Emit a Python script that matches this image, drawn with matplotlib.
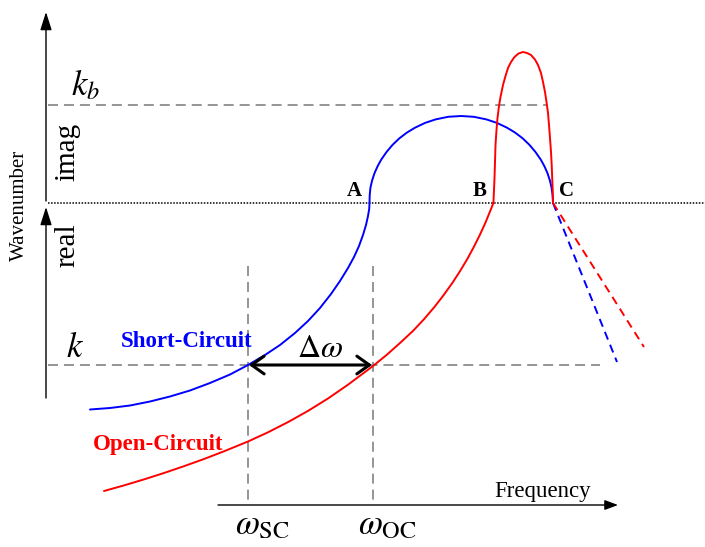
import matplotlib
matplotlib.use("Agg")
import matplotlib.pyplot as plt
from matplotlib.patches import FancyArrowPatch

plt.rcParams["font.family"] = ["Liberation Serif", "DejaVu Serif"]
plt.rcParams["mathtext.fontset"] = "stix"
plt.rcParams["lines.scale_dashes"] = False

# Schematic dispersion curves, in drawing units (frequency to the right,
# wavenumber upward; the vertical scale runs top-down like the canvas).
# Short-circuit branch: real part, imaginary arc, and its dashed continuation
sc_real_f = [90, 110, 130, 150, 170, 190, 210, 230, 248, 265, 280, 295, 308, 320,
             331, 340, 348, 354, 359, 363, 366, 368, 369.2, 369.5]
sc_real_k = [409.5, 408, 405.5, 401.5, 396.5, 390.5, 383, 374.5, 365, 355, 345, 333,
             321, 308, 294, 281, 268, 257, 246, 235, 225, 216, 209, 203]
sc_imag_f = [369.5, 369.7, 370.4, 372.1, 374.5, 377.6, 381.3, 386.6, 392.6, 399.4,
             406.9, 415, 425.1, 435.6, 448.2, 461, 473.8, 486.4, 496.9, 507,
             515.1, 522.6, 529.4, 535.4, 540.7, 544.4, 547.5, 549.9, 551.6,
             552.6, 553]
sc_imag_k = [203, 195.4, 187.9, 180.5, 173.2, 166.2, 159.5, 151.9, 144.8, 138.3,
             132.6, 127.7, 122.9, 119.4, 116.8, 116, 116.8, 119.4, 122.9, 127.7,
             132.6, 138.3, 144.8, 151.9, 159.5, 166.2, 173.2, 180.5, 187.9,
             195.4, 203]
sc_tail_f = [553, 617]
sc_tail_k = [203, 362]

# Open-circuit branch
oc_real_f = [104, 124, 144, 164, 184, 204, 224, 248, 268, 288, 308, 328, 348, 373,
             387, 400, 412.9, 424.2, 434.4, 443.7, 452.3, 460.1, 467.3, 473.8,
             479.8, 485.3, 490.2, 493.4]
oc_real_k = [491, 485.4, 479.4, 473.0, 466.2, 459.0, 451.3, 441.5, 432.3, 422.1,
             410.9, 398.5, 384.7, 366, 354.6, 343, 331, 319, 307, 295, 283, 271,
             259, 247, 235, 223, 211, 203]
oc_imag_f = [493.4, 494, 494.5, 495, 495.5, 496.5, 497.5, 499, 500.5, 503, 505.5,
             508, 511, 514.5, 518.5, 523, 527, 531, 535, 538, 541, 543, 545,
             546.5, 548, 549, 550, 551, 551.7, 552.2, 552.7, 553]
oc_imag_k = [203, 190, 178, 162, 145, 130, 118, 106, 97, 85, 76,
             68, 62, 57, 53.5, 52, 53, 55, 59.5, 65, 73, 82, 92,
             102, 113, 125, 138, 152, 165, 178, 190, 203]
oc_tail_f = [553, 644]
oc_tail_k = [203, 347]

# Reference levels and marked frequencies
k_level = 365
kb_level = 105
zero_level = 203
w_sc = 248
w_oc = 373
point_labels = ["A", "B", "C"]
point_f = [354, 480, 567]

BLUE = "#0000ff"
RED = "#ff0000"
GREY = "#8c8c8c"
DASH = (0, (7.2, 4.3))

fig = plt.figure(figsize=(7.05, 5.47), dpi=100)
ax = fig.add_axes([0, 0, 1, 1])
ax.set_xlim(0, 705)
ax.set_ylim(547, 0)
ax.axis("off")

# reference lines
ax.plot([48, 705], [zero_level, zero_level], color="black", lw=1.1,
        linestyle=(0, (1.1, 1.1)))
ax.plot([48, 546], [kb_level, kb_level], color=GREY, lw=1.3, linestyle=DASH)
ax.plot([48, 600], [k_level, k_level], color=GREY, lw=1.3, linestyle=DASH)
for w in (w_sc, w_oc):
    ax.plot([w, w], [266, 505], color=GREY, lw=1.3, linestyle=DASH)

# curves
curve_kw = dict(lw=1.4, solid_joinstyle="round", solid_capstyle="round")
ax.plot(sc_real_f, sc_real_k, color=BLUE, **curve_kw)
ax.plot(sc_imag_f, sc_imag_k, color=BLUE, **curve_kw)
ax.plot(sc_tail_f, sc_tail_k, color=BLUE, lw=1.4, linestyle=(0, (6, 4)))
ax.plot(oc_real_f, oc_real_k, color=RED, **curve_kw)
ax.plot(oc_imag_f, oc_imag_k, color=RED, **curve_kw)
ax.plot(oc_tail_f, oc_tail_k, color=RED, lw=1.4, linestyle=(0, (6, 4)))


def axis_arrow(p0, p1, hl, hw):
    a = FancyArrowPatch(p0, p1, arrowstyle=f"-|>,head_length={hl},head_width={hw}",
                        mutation_scale=10, color="black", lw=1.0,
                        shrinkA=0, shrinkB=0, zorder=3)
    ax.add_patch(a)


axis_arrow((46, 201), (46, 12), 1.1, 0.35)
axis_arrow((46, 398), (46, 207), 1.1, 0.35)
axis_arrow((218, 505), (618, 505), 0.8, 0.3)

# frequency shift arrow
ax.add_patch(FancyArrowPatch((w_sc + 1, k_level), (w_oc - 1, k_level),
                             arrowstyle="<->,head_length=0.45,head_width=0.32",
                             mutation_scale=20, color="black", lw=2.2,
                             shrinkA=0, shrinkB=0, zorder=4))

# labels
ax.text(19, 205, "Wavenumber", rotation=90, ha="center", va="center", fontsize=15)
ax.text(67, 152, "imag", rotation=90, ha="center", va="center", fontsize=21)
ax.text(67, 245, "real", rotation=90, ha="center", va="center", fontsize=21)
ax.text(71, 95, r"$k_b$", ha="left", va="baseline", fontsize=25)
ax.text(66, 357, r"$k$", ha="left", va="baseline", fontsize=25)
ax.text(543, 497, "Frequency", ha="center", va="baseline", fontsize=16.5)
ax.text(262, 534, r"$\omega_{\mathrm{SC}}$", ha="center", va="baseline", fontsize=25)
ax.text(387, 534, r"$\omega_{\mathrm{OC}}$", ha="center", va="baseline", fontsize=25)
ax.text(320, 357, r"$\Delta\omega$", ha="center", va="baseline", fontsize=23)
ax.text(121, 347, "Short-Circuit", ha="left", va="baseline", fontsize=16.5,
        fontweight="bold", color=BLUE)
ax.text(93, 450, "Open-Circuit", ha="left", va="baseline", fontsize=16.5,
        fontweight="bold", color=RED)
for lab, f in zip(point_labels, point_f):
    ax.text(f, 196, lab, ha="center", va="baseline", fontsize=15, fontweight="bold")

fig.savefig("out.png", dpi=100)
